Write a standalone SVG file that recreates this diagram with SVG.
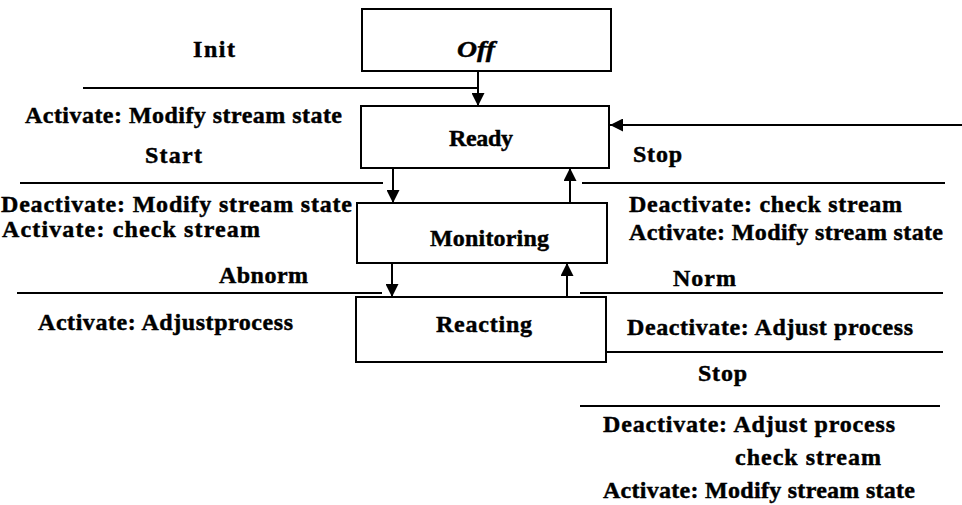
<svg xmlns="http://www.w3.org/2000/svg" width="962" height="505" viewBox="0 0 962 505">
<defs>
<style>
.box{fill:#fff;stroke:#000;stroke-width:2}
.ln{fill:none;stroke:#000;stroke-width:2}
text{font-family:"Liberation Serif","Times New Roman",serif;font-weight:bold;font-size:24px;fill:#000;stroke:#000;stroke-width:0.45}
.it{font-style:italic}
</style>
<marker id="ah" markerUnits="userSpaceOnUse" markerWidth="14" markerHeight="13" refX="13" refY="6.5" orient="auto">
<path d="M0,0 L13,6.5 L0,13 Z" fill="#000"/>
</marker>
</defs>
<rect width="962" height="505" fill="#fff"/>
<g id="connectors">
<path class="ln" d="M83,88 H478"/>
<path class="ln" d="M478,71 V106" marker-end="url(#ah)"/>
<path class="ln" d="M20,183 H383"/>
<path class="ln" d="M393,168 V203" marker-end="url(#ah)"/>
<path class="ln" d="M17,293 H382"/>
<path class="ln" d="M392,263 V297" marker-end="url(#ah)"/>
<path class="ln" d="M962,125 H610" marker-end="url(#ah)"/>
<path class="ln" d="M582,183 H945"/>
<path class="ln" d="M570,203 V168" marker-end="url(#ah)"/>
<path class="ln" d="M580,293 H943"/>
<path class="ln" d="M567,297 V263" marker-end="url(#ah)"/>
<path class="ln" d="M606,352 H943"/>
<path class="ln" d="M580,406 H940"/>
</g>
<g id="off">
<rect class="box" x="362" y="9" width="249" height="62"/>
<text class="it" x="457" y="57" textLength="38" lengthAdjust="spacingAndGlyphs">Off</text>
</g>
<g id="ready">
<rect class="box" x="361" y="106" width="248" height="62"/>
<text x="449" y="146" textLength="64">Ready</text>
</g>
<g id="monitoring">
<rect class="box" x="357" y="203" width="250" height="60"/>
<text x="430" y="246" textLength="119">Monitoring</text>
</g>
<g id="reacting">
<rect class="box" x="356" y="297" width="250" height="65"/>
<text x="436" y="332" textLength="96">Reacting</text>
</g>
<g id="labels">
<text x="193" y="57" textLength="42">Init</text>
<text x="25" y="123" textLength="317">Activate: Modify stream state</text>
<text x="145" y="163" textLength="57">Start</text>
<text x="1" y="212" textLength="351">Deactivate: Modify stream state</text>
<text x="2" y="237" textLength="258">Activate: check stream</text>
<text x="219" y="283" textLength="89">Abnorm</text>
<text x="38" y="330" textLength="255">Activate: Adjustprocess</text>
<text x="633" y="162" textLength="49">Stop</text>
<text x="629" y="212" textLength="273">Deactivate: check stream</text>
<text x="629" y="240" textLength="314">Activate: Modify stream state</text>
<text x="673" y="286" textLength="63">Norm</text>
<text x="627" y="335" textLength="286">Deactivate: Adjust process</text>
<text x="698" y="381" textLength="49">Stop</text>
<text x="603" y="432" textLength="292">Deactivate: Adjust process</text>
<text x="735" y="465" textLength="146">check stream</text>
<text x="603" y="498" textLength="312">Activate: Modify stream state</text>
</g>
</svg>
